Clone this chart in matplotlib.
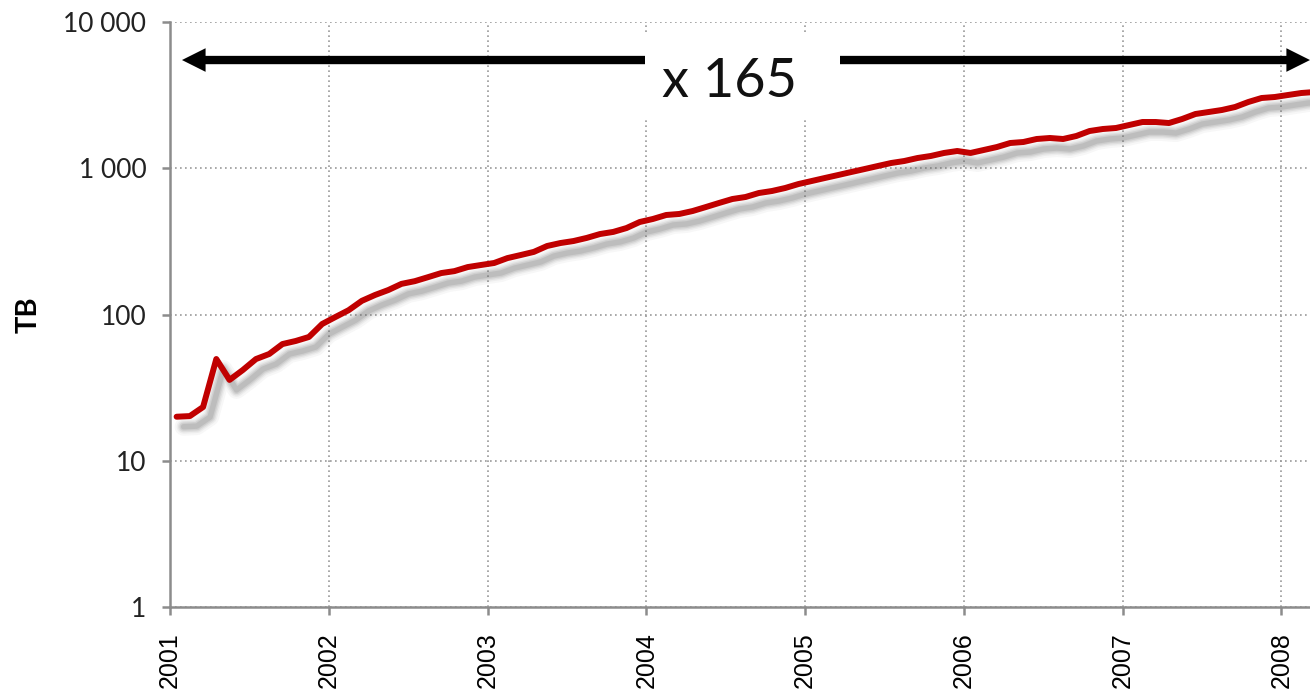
import matplotlib
matplotlib.use("Agg")
import matplotlib.pyplot as plt
import matplotlib.transforms as mtransforms
from matplotlib.patches import Rectangle
from matplotlib.ticker import FixedLocator, FuncFormatter, NullLocator
import numpy as np

# monthly volume in TB, Jan 2001 .. Mar 2008
start_year = 2001
volume_tb = [
    20, 20.2, 23.3, 49.6, 35.7, 41.7, 49.6, 53.7, 62.8, 65.9, 70.2, 86.1,
    96.1, 107, 124, 136, 147, 162, 169, 180, 192, 198, 211, 218,
    225, 243, 255, 268, 294, 308, 318, 334, 355, 367, 390, 429,
    450, 479, 487, 510, 543, 579, 616, 636, 677, 699, 733, 780,
    818, 858, 899, 943, 988, 1036, 1086, 1121, 1175, 1213, 1272, 1312,
    1272, 1333, 1397, 1488, 1512, 1585, 1610, 1585, 1662, 1797, 1855, 1885,
    1976, 2071, 2071, 2038, 2172, 2349, 2424, 2502, 2623, 2838, 3022, 3070,
    3169, 3269, 3321,
]
year_ticks = [2001, 2002, 2003, 2004, 2005, 2006, 2007, 2008]
y_ticks = [1, 10, 100, 1000, 10000]
growth_label = "x 165"

months = np.arange(len(volume_tb))
x = start_year + (months + 0.5) / 12

plt.rcParams["font.family"] = ["Lato", "DejaVu Sans"]

fig = plt.figure(figsize=(13.10, 6.93), dpi=100)
ax = fig.add_axes([170 / 1310, 86 / 693, 1140 / 1310, 585 / 693])

# soft drop shadow under the line
off = mtransforms.offset_copy(ax.transData, fig=fig, x=7, y=-10, units="dots")
for lw, a in [(13, 0.05), (10, 0.07), (8, 0.10), (6, 0.13), (4, 0.17)]:
    ax.plot(x, volume_tb, color="#6a6a6a", lw=lw, alpha=a,
            solid_joinstyle="round", solid_capstyle="round", transform=off, zorder=2)

ax.plot(x, volume_tb, color="#c00000", lw=4.3, solid_joinstyle="round",
        solid_capstyle="round", zorder=3)

ax.set_yscale("log")
ax.set_ylim(1, 10000)
ax.set_xlim(2001, 2008.18)
ax.yaxis.set_major_locator(FixedLocator(y_ticks))
ax.yaxis.set_minor_locator(NullLocator())
ax.yaxis.set_major_formatter(FuncFormatter(lambda v, p: f"{int(v):,}".replace(",", " ")))
ax.set_xticks(year_ticks)
ax.set_xticklabels([str(y) for y in year_ticks], rotation=90,
                   fontfamily="Liberation Sans", fontsize=18)

ax.grid(True, which="major", color="#999999", linestyle=(0, (1, 2)), lw=1.2, zorder=1)
for s in ["top", "right"]:
    ax.spines[s].set_visible(False)
for s in ["left", "bottom"]:
    ax.spines[s].set_color("#8c8c8c")
    ax.spines[s].set_linewidth(1.8)
ax.tick_params(axis="both", direction="out", length=6, width=1.8, color="#8c8c8c")
ax.tick_params(axis="y", labelsize=19, pad=11, labelcolor="#222222")
ax.tick_params(axis="x", pad=12)

ax.set_ylabel("TB", fontsize=21, fontweight="bold")
ax.yaxis.set_label_coords(-0.113, 0.5)

# growth arrow: two solid arrows pointing out from the middle
arrow_y = 0.935
for end in (0.0105, 1.0):
    ax.annotate("", xy=(end, arrow_y), xytext=(0.5, arrow_y), xycoords="axes fraction",
                arrowprops=dict(arrowstyle="simple,tail_width=0.6,head_width=1.7,head_length=1.7",
                                mutation_scale=10, facecolor="black", edgecolor="none",
                                shrinkA=0, shrinkB=0),
                annotation_clip=False, zorder=4)
ax.add_patch(Rectangle((0.4167, 0.836), 0.171, 0.142, transform=ax.transAxes,
                       facecolor="white", edgecolor="none", zorder=5, clip_on=False))
ax.text(0.491, 0.898, growth_label, transform=ax.transAxes, ha="center", va="center",
        fontsize=39, color="#111111", zorder=6)

fig.savefig("out.png", dpi=100)
